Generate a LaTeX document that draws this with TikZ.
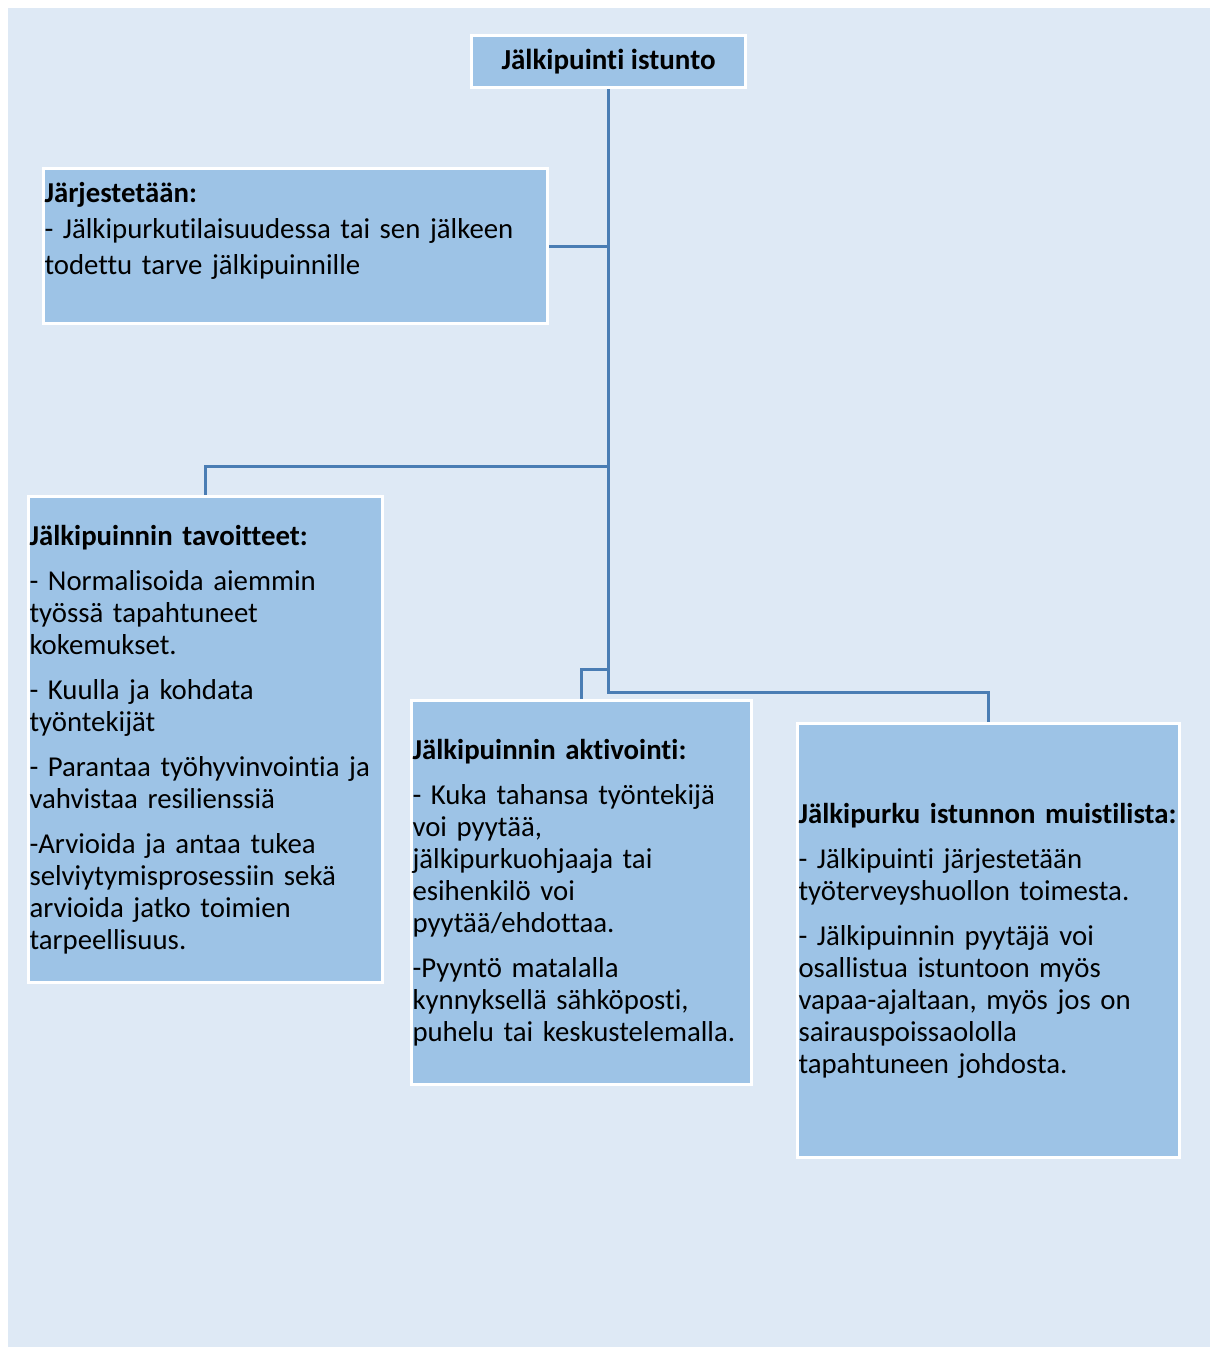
\documentclass[tikz,border=0pt]{standalone}
\usepackage{fontspec}
\setmainfont{Carlito}[RawFeature={-liga}]
\definecolor{bgblue}{HTML}{DEE9F5}
\definecolor{boxblue}{HTML}{9DC3E6}
\definecolor{lineblue}{HTML}{4A7DB4}
\tikzset{
  box/.style={draw=white,line width=3pt,fill=boxblue,inner xsep=1pt,inner ysep=0pt,
    align=left,font=\fontsize{28.8}{32}\selectfont},
  conn/.style={draw=lineblue,line width=3pt}
}
\begin{document}
\begin{tikzpicture}[x=1pt,y=-1pt]
    \useasboundingbox (0,0) rectangle (1216,1347);
    \fill[bgblue] (8,8) rectangle (1210,1347);
    % top
    \node[box,minimum width=274,minimum height=52,align=center,font=\fontsize{29}{32}\selectfont\bfseries] (top) at (608.5,61.5) {Jälkipuinti istunto};
    \node[box,minimum width=504,minimum height=155,text width=502,font=\fontsize{28.8}{36}\selectfont] (jarj) at (295.5,246)
      {\textbf{Järjestetään:}\\- Jälkipurkutilaisuudessa tai sen jälkeen\\todettu tarve jälkipuinnille\\\mbox{}};
    % branches
    \node[box,minimum width=354,minimum height=486,text width=352] (tav) at (205.5,739.5)
      {\textbf{Jälkipuinnin tavoitteet:}\\[13pt]
       - Normalisoida aiemmin\\työssä tapahtuneet\\kokemukset.\\[13pt]
       - Kuulla ja kohdata\\työntekijät\\[13pt]
       - Parantaa työhyvinvointia ja\\vahvistaa resilienssiä\\[13pt]
       -Arvioida ja antaa tukea\\selviytymisprosessiin sekä\\arvioida jatko toimien\\tarpeellisuus.};
    \node[box,minimum width=340,minimum height=384,text width=338] (akt) at (581.5,892.5)
      {\textbf{Jälkipuinnin aktivointi:}\\[13pt]
       - Kuka tahansa työntekijä\\voi pyytää,\\jälkipurkuohjaaja tai\\esihenkilö voi\\pyytää/ehdottaa.\\[13pt]
       -Pyyntö matalalla\\kynnyksellä sähköposti,\\puhelu tai keskustelemalla.};
    \node[box,minimum width=382,minimum height=434,text width=380] (muisti) at (988.5,940.5)
      {\textbf{Jälkipurku istunnon muistilista:}\\[13pt]
       - Jälkipuinti järjestetään\\työterveyshuollon toimesta.\\[13pt]
       - Jälkipuinnin pyytäjä voi\\osallistua istuntoon myös\\vapaa-ajaltaan, myös jos on\\sairauspoissaololla\\tapahtuneen johdosta.};
    % connectors
    \draw[conn] (top.south) |- (jarj.east);
    \draw[conn] (top.south) -- ++(0,377) -| (tav.north);
    \draw[conn] (top.south) -- ++(0,580) -| (akt.north);
    \draw[conn] (top.south) -- ++(0,603) -| (muisti.north);
\end{tikzpicture}
\end{document}
